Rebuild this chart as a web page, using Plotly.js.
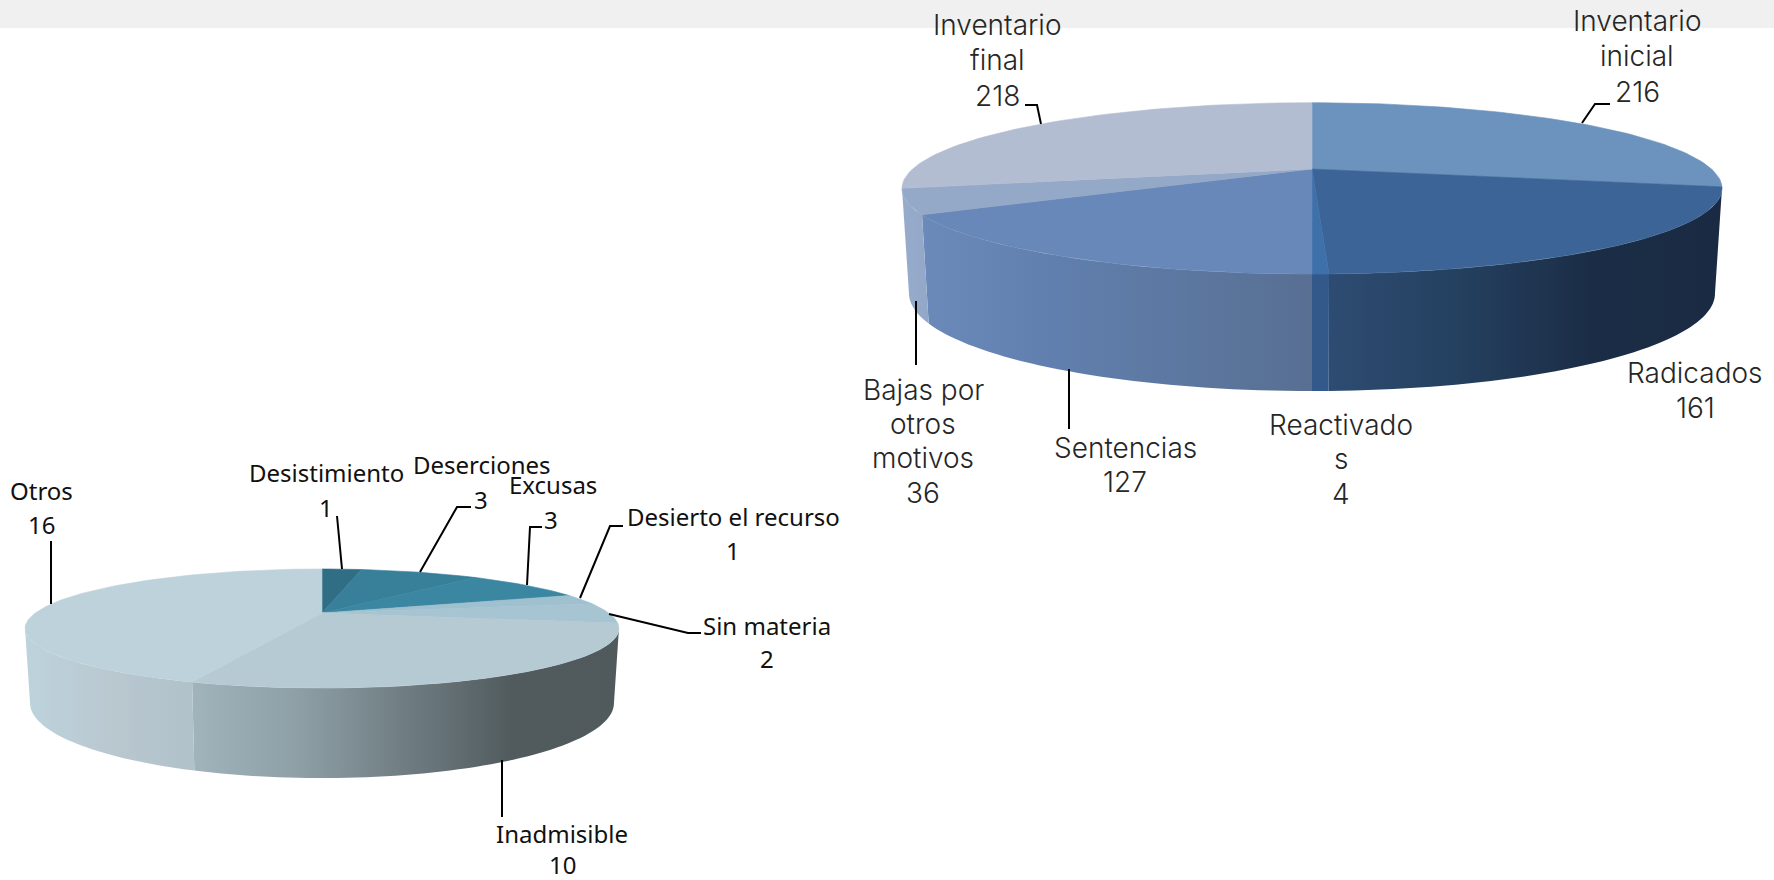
<!DOCTYPE html>
<html>
<head>
<meta charset="utf-8">
<script src="https://cdn.plot.ly/plotly-3.0.1.min.js"></script>
<style>html,body{margin:0;padding:0;background:#fff}#chart{width:1774px;height:880px}</style>
</head>
<body>
<div id="chart"></div>
<script>
// ---------- data ----------
const upperCategories = ['Inventario inicial', 'Radicados', 'Reactivados', 'Sentencias', 'Bajas por otros motivos', 'Inventario final'];
const upperValues = [216, 161, 4, 127, 36, 218];
const lowerCategories = ['Desistimiento', 'Deserciones', 'Excusas', 'Desierto el recurso', 'Sin materia', 'Inadmisible', 'Otros'];
const lowerValues = [1, 3, 3, 1, 2, 10, 16];

// ---------- styles ----------
const upperTop = ['#6C93BE', '#3C6496', '#3E70AA', '#6788B8', '#94A8C8', '#B2BDD2'];
const upperSide = [
  ['#6C93BE', '#6C93BE'],
  ['#2E4C72', '#24405F', '#1B2D46', '#1A2A42'],
  ['#33598A', '#33598A'],
  ['#6B8ABA', '#617FAE', '#5C77A0', '#586F92'],
  ['#97ABCB', '#93A8C8'],
  ['#B2BDD2', '#B2BDD2']
];
const lowerTop = ['#2F6E84', '#38809A', '#3B86A1', '#9FC0CE', '#A6C4D1', '#B5CAD3', '#BDD2DB'];
const lowerSide = [
  ['#2F6E84', '#2F6E84'], ['#38809A', '#38809A'], ['#3B86A1', '#3B86A1'],
  ['#9FC0CE', '#9FC0CE'], ['#A6C4D1', '#A6C4D1'],
  ['#A1B4BB', '#8E9FA6', '#6F7D82', '#515B5E', '#50595C'],
  ['#BDD3DC', '#BAC8D0', '#B0C1C9']
];

// ---------- geometry of the tilted discs ----------
const upperGeo = {cx: 1312, apexY: 169, a: 399.4, b: 81.3, k: 0.226, cyTop: 188, ryTop: 86, rxTop: 410, cyBot: 293, ryBot: 98, rxBot: 403};
const lowerGeo = {cx: 322, apexY: 613, a: 286.7, b: 55.5, k: 0.2606, cyTop: 628.5, ryTop: 59.5, rxTop: 297, cyBot: 703, ryBot: 75, rxBot: 292};

function rimTop(g, deg) {
  const t = deg * Math.PI / 180, u = Math.sin(t), v = Math.cos(t), w = 1 + g.k * v;
  return [g.cx + g.a * u / w, g.apexY - g.b * v / w];
}
function rimBot(g, deg) {
  const p = rimTop(g, deg);
  return [g.cx + (p[0] - g.cx) * g.rxBot / g.rxTop, g.cyBot + (p[1] - g.cyTop) * g.ryBot / g.ryTop];
}
function arc(fn, g, d0, d1) {
  const n = Math.max(2, Math.ceil(Math.abs(d1 - d0) / 1.5)), pts = [];
  for (let i = 0; i <= n; i++) pts.push(fn(g, d0 + (d1 - d0) * i / n));
  return pts;
}
function pieTraces(cats, vals, g, topCols, sideCols) {
  const total = vals.reduce((s, x) => s + x, 0);
  const vis0 = Math.acos(-Math.abs((g.cyTop - g.apexY) / (g.b + g.k * (g.cyTop - g.apexY)))) * 180 / Math.PI;
  const vis1 = 360 - vis0;
  const sides = [], tops = [];
  let acc = 0;
  vals.forEach((val, i) => {
    const d0 = acc / total * 360, d1 = (acc + val) / total * 360;
    acc += val;
    const s0 = Math.max(d0, vis0), s1 = Math.min(d1, vis1);
    if (s1 > s0) {
      const poly = arc(rimTop, g, s0, s1).concat(arc(rimBot, g, s1, s0));
      poly.push(poly[0]);
      const cs = sideCols[i];
      sides.push({
        type: 'scatter', mode: 'none', name: cats[i], showlegend: false, hoverinfo: 'skip',
        x: poly.map(p => p[0]), y: poly.map(p => p[1]), fill: 'toself',
        fillgradient: {type: 'horizontal', colorscale: cs.map((c, j) => [j / (cs.length - 1), c])}
      });
    }
    const wedge = [[g.cx, g.apexY]].concat(arc(rimTop, g, d0, d1));
    wedge.push(wedge[0]);
    tops.push({
      type: 'scatter', mode: 'lines', name: cats[i], showlegend: false, hoverinfo: 'name',
      x: wedge.map(p => p[0]), y: wedge.map(p => p[1]), fill: 'toself',
      fillcolor: topCols[i], line: {color: topCols[i], width: 0.6}
    });
  });
  return sides.concat(tops);
}

// ---------- labels: each line of text with its centre ----------
const upperLabels = [
  {x: 1637, ys: [21, 56, 92], lines: ['Inventario', 'inicial', String(upperValues[0])]},
  {x: 1695, ys: [373, 408], lines: ['Radicados', String(upperValues[1])]},
  {x: 1341, ys: [425, 459, 494], lines: ['Reactivado', 's', String(upperValues[2])]},
  {x: 1125, ys: [448, 482], lines: ['Sentencias', String(upperValues[3])]},
  {x: 923, ys: [390, 424, 458, 493], lines: ['Bajas por', 'otros', 'motivos', String(upperValues[4])]},
  {x: 997, ys: [25, 60, 96], lines: ['Inventario', 'final', String(upperValues[5])]}
];
const lowerLabels = [
  {x: 326, ys: [472, 507], xs: [326, 326], lines: ['Desistimiento', String(lowerValues[0])]},
  {x: 483, ys: [464, 499], xs: [482, 481], lines: ['Deserciones', String(lowerValues[1])]},
  {x: 553, ys: [484, 519], xs: [553, 551], lines: ['Excusas', String(lowerValues[2])]},
  {x: 733, ys: [516, 550], xs: [733, 733], lines: ['Desierto el recurso', String(lowerValues[3])]},
  {x: 767, ys: [625, 658], xs: [767, 767], lines: ['Sin materia', String(lowerValues[4])]},
  {x: 562, ys: [833, 864], xs: [562, 562], lines: ['Inadmisible', String(lowerValues[5])]},
  {x: 41, ys: [490, 524], xs: [41, 41], lines: ['Otros', String(lowerValues[6])]}
];
const upperFont = {family: 'Inter, sans-serif', size: 28, color: '#262626', weight: 300};
const lowerFont = {family: '"Noto Sans", sans-serif', size: 24, color: '#111111'};

function annots(labels, font) {
  const out = [];
  labels.forEach(l => l.lines.forEach((t, i) => out.push({
    xref: 'x', yref: 'y', x: l.xs ? l.xs[i] : l.x, y: l.ys[i], text: t, showarrow: false,
    xanchor: 'center', yanchor: 'middle', font: font
  })));
  return out;
}

// ---------- leader lines ----------
const leaders = [
  [[1582, 123], [1595, 104], [1610, 104]],
  [[1041, 124], [1037, 105], [1025, 105]],
  [[916, 301], [916, 365]],
  [[1069, 369], [1069, 429]],
  [[51, 604], [51, 541]],
  [[342, 569], [337, 516]],
  [[420, 572], [457, 507], [471, 507]],
  [[527, 585], [530, 527], [542, 527]],
  [[580, 598], [610, 526], [623, 526]],
  [[609, 614], [688, 633], [701, 633]],
  [[502, 760], [502, 817]]
];
const leaderShapes = leaders.map(pts => ({
  type: 'path', xref: 'x', yref: 'y', layer: 'above',
  path: pts.map((p, i) => (i ? 'L' : 'M') + p[0] + ',' + p[1]).join(' '),
  line: {color: '#000000', width: 2}
}));

const bandShape = {type: 'rect', xref: 'paper', yref: 'y', x0: 0, x1: 1, y0: 0, y1: 28, layer: 'below', line: {width: 0}, fillcolor: '#F0F0F0'};

const traces = pieTraces(upperCategories, upperValues, upperGeo, upperTop, upperSide)
  .concat(pieTraces(lowerCategories, lowerValues, lowerGeo, lowerTop, lowerSide));

const layout = {
  width: 1774, height: 880,
  margin: {l: 0, r: 0, t: 0, b: 0},
  paper_bgcolor: '#FFFFFF', plot_bgcolor: '#FFFFFF',
  showlegend: false,
  xaxis: {range: [0, 1774], visible: false, fixedrange: true},
  yaxis: {range: [880, 0], visible: false, fixedrange: true},
  shapes: [bandShape].concat(leaderShapes),
  annotations: annots(upperLabels, upperFont).concat(annots(lowerLabels, lowerFont))
};
Plotly.newPlot('chart', traces, layout, {displayModeBar: false, staticPlot: false});
</script>
</body>
</html>
